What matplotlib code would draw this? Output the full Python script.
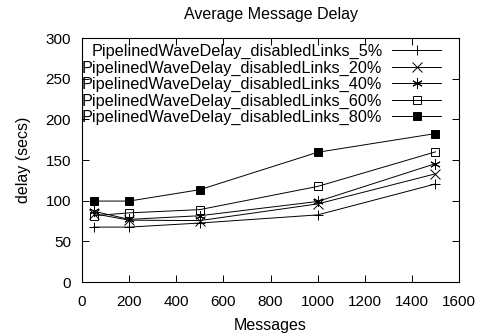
import matplotlib
matplotlib.use("Agg")
import matplotlib.pyplot as plt

plt.rcParams['font.family'] = ['Liberation Sans', 'DejaVu Sans']

messages = [50, 200, 500, 1000, 1500]
delay_5 = [67.5, 67.5, 72.5, 82.5, 120.5]
delay_20 = [84, 76, 75.5, 96, 133]
delay_40 = [87, 77, 81.5, 99, 145.5]
delay_60 = [81.5, 85, 89, 117.5, 160]
delay_80 = [99.5, 99.5, 113.5, 159.5, 182.5]

labels = ["PipelinedWaveDelay_disabledLinks_5%",
          "PipelinedWaveDelay_disabledLinks_20%",
          "PipelinedWaveDelay_disabledLinks_40%",
          "PipelinedWaveDelay_disabledLinks_60%",
          "PipelinedWaveDelay_disabledLinks_80%"]

series = [delay_5, delay_20, delay_40, delay_60, delay_80]
# gnuplot-like point types: plus, cross, star, open box, filled box
markers = [dict(marker='+', mfc='none', ms=7.5),
           dict(marker='x', mfc='none', ms=6.5),
           dict(marker=(6, 2, 0), mfc='none', ms=7.5),
           dict(marker='s', mfc='none', ms=6),
           dict(marker='s', mfc='black', ms=6)]

fig = plt.figure(figsize=(4.78, 3.35), dpi=100)
ax = fig.add_axes([82 / 478, 53 / 335, 377 / 478, 244 / 335])

for vals, lab, mk in zip(series, labels, markers):
    ax.plot(messages, vals, color='black', lw=0.7, mew=0.7,
            mec='black', label=lab, **mk)

ax.set_xlim(0, 1600)
ax.set_ylim(0, 300)
ax.set_xticks(range(0, 1601, 200))
ax.set_yticks(range(0, 301, 50))
ax.tick_params(direction='in', length=5, width=0.7, top=True, right=True,
               labelsize=11, pad=8)
ax.tick_params(axis='x', pad=9.5)
for sp in ax.spines.values():
    sp.set_linewidth(0.8)

ax.set_title("Average Message Delay", fontsize=11.5, pad=14)
ax.set_xlabel("Messages", fontsize=11.5, labelpad=6)
ax.set_ylabel("delay (secs)", fontsize=11.5, labelpad=10)

ax.legend(loc='upper right', bbox_to_anchor=(0.952, 0.975), frameon=False,
          markerfirst=False, fontsize=11.7, handlelength=3.0,
          labelspacing=0.08, borderaxespad=0, borderpad=0,
          handletextpad=0.6)

fig.savefig("out.png", dpi=100)
